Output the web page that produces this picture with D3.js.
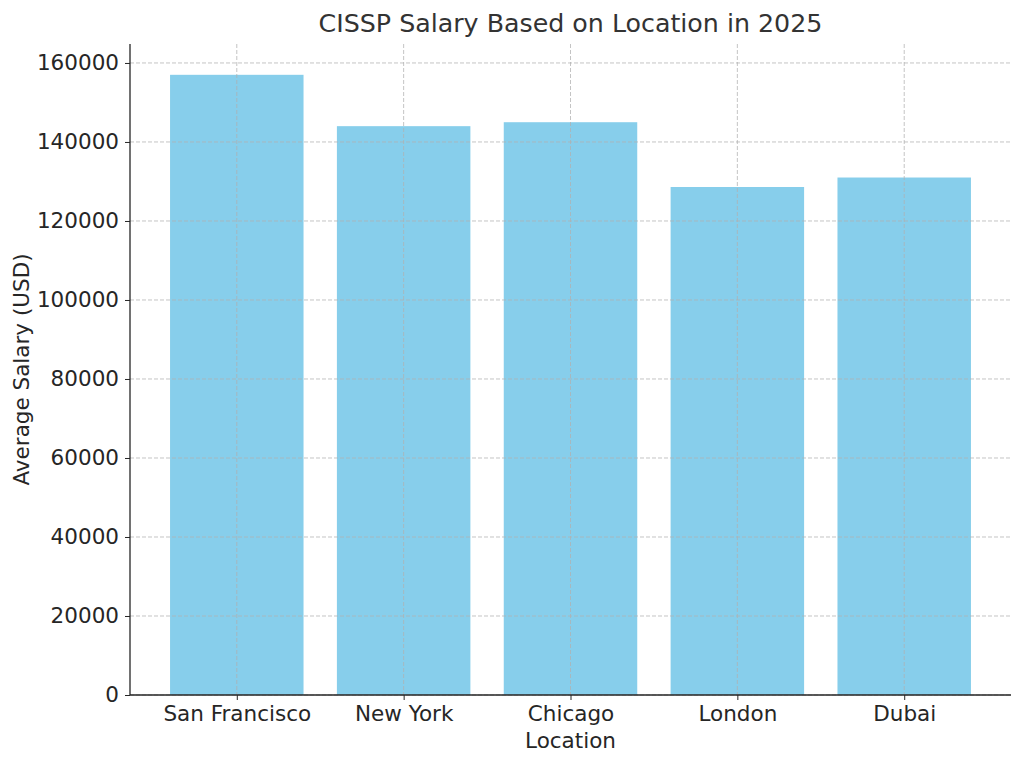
<!DOCTYPE html>
<html><head><meta charset="utf-8">
<script src="https://cdn.jsdelivr.net/npm/d3@7"></script>
<style>body{margin:0;background:#fff}text{font-family:"DejaVu Sans",sans-serif;fill:#262626}</style>
</head><body><svg id="c" width="1024" height="765"></svg>
<script>
const locations = ['San Francisco', 'New York', 'Chicago', 'London', 'Dubai'];
const salaries = [157000, 144000, 145000, 128600, 131000];
const yTicks = [0, 20000, 40000, 60000, 80000, 100000, 120000, 140000, 160000];

const svg = d3.select('#c');
const m = {l: 130, r: 1011, t: 44, b: 695};
const x = d3.scaleLinear().domain([-0.64, locations.length - 1 + 0.64]).range([m.l, m.r]);
const y = d3.scaleLinear().domain([0, 164800]).range([m.b, m.t]);

svg.selectAll('rect.bar').data(salaries).join('rect')
  .attr('x', (d, i) => x(i - 0.4)).attr('width', x(0.8) - x(0))
  .attr('y', d => y(d)).attr('height', d => y(0) - y(d))
  .attr('fill', '#87ceeb');

const grid = svg.append('g').attr('stroke', '#b0b0b0').attr('stroke-opacity', 0.75)
  .attr('stroke-dasharray', '4,2').attr('stroke-width', 1);
grid.selectAll('line.h').data(yTicks).join('line')
  .attr('x1', m.l).attr('x2', m.r).attr('y1', d => y(d)).attr('y2', d => y(d));
grid.selectAll('line.v').data(locations).join('line')
  .attr('x1', (d, i) => x(i)).attr('x2', (d, i) => x(i)).attr('y1', m.t).attr('y2', m.b);

const ya = svg.append('g').attr('transform', `translate(${m.l},0)`)
  .call(d3.axisLeft(y).tickValues(yTicks).tickFormat(d3.format('d')).tickSize(5).tickPadding(6));
const xa = svg.append('g').attr('transform', `translate(0,${m.b})`)
  .call(d3.axisBottom(x).tickValues(d3.range(locations.length)).tickFormat(i => locations[i]).tickSize(5).tickPadding(6));
[ya, xa].forEach(a => {
  a.attr('font-size', null).attr('font-family', null);
  a.selectAll('text').style('font-size', '21.5px').attr('fill', '#262626');
  a.select('.domain').attr('stroke', '#262626').attr('stroke-width', 1.3);
  a.selectAll('.tick line').attr('stroke', '#262626');
});
ya.select('.domain').attr('d', `M0,${m.b}V${m.t}`);
xa.select('.domain').attr('d', `M${m.l},0H${m.r}`);

svg.append('text').attr('x', (m.l + m.r) / 2).attr('y', 32).attr('text-anchor', 'middle')
  .style('font-size', '25.3px').style('fill', '#333').text('CISSP Salary Based on Location in 2025');
svg.append('text').attr('x', (m.l + m.r) / 2).attr('y', 748).attr('text-anchor', 'middle')
  .style('font-size', '21.5px').text('Location');
svg.append('text').attr('transform', `translate(29,${(m.t + m.b) / 2}) rotate(-90)`).attr('text-anchor', 'middle')
  .style('font-size', '21.5px').text('Average Salary (USD)');
</script></body></html>
